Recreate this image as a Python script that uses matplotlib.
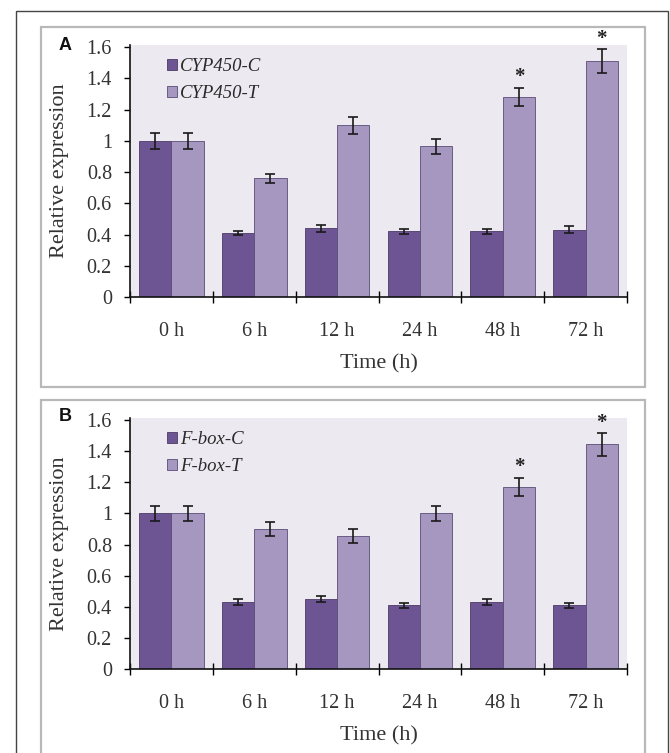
import matplotlib
matplotlib.use("Agg")
import matplotlib.pyplot as plt
from matplotlib.patches import Rectangle
import numpy as np

# data
times = ["0 h", "6 h", "12 h", "24 h", "48 h", "72 h"]

cyp_c = [1.00, 0.41, 0.44, 0.42, 0.42, 0.43]
cyp_c_err = [0.05, 0.015, 0.022, 0.016, 0.016, 0.022]
cyp_t = [1.00, 0.76, 1.10, 0.965, 1.28, 1.51]
cyp_t_err = [0.05, 0.03, 0.055, 0.047, 0.06, 0.078]
cyp_sig = [False, False, False, False, True, True]

fbox_c = [1.00, 0.43, 0.45, 0.41, 0.43, 0.41]
fbox_c_err = [0.05, 0.02, 0.02, 0.015, 0.02, 0.015]
fbox_t = [1.00, 0.90, 0.855, 1.00, 1.17, 1.445]
fbox_t_err = [0.05, 0.043, 0.045, 0.05, 0.06, 0.074]
fbox_sig = [False, False, False, False, True, True]

yticks = [0, 0.2, 0.4, 0.6, 0.8, 1.0, 1.2, 1.4, 1.6]
ytick_labels = ["0", "0.2", "0.4", "0.6", "0.8", "1", "1.2", "1.4", "1.6"]

dark = "#6d5492"
light = "#a597c0"
shade = "#ede9f1"
serif = "Liberation Serif"

W, H = 670, 753
fig = plt.figure(figsize=(W / 100, H / 100), dpi=100)
fig.patch.set_facecolor("white")

# frames around the figure and the two panels
fig.patches.append(Rectangle((16 / W, -0.01), 652 / W, 1.01 - 11 / H,
                             transform=fig.transFigure, fill=False,
                             edgecolor="#444444", linewidth=1.0))
fig.patches.append(Rectangle((41 / W, 1 - 387 / H), 604 / W, 360 / H,
                             transform=fig.transFigure, fill=False,
                             edgecolor="#b8b8b8", linewidth=1.6))
fig.patches.append(Rectangle((41 / W, -0.01), 604 / W, 0.01 + 1 - 400 / H,
                             transform=fig.transFigure, fill=False,
                             edgecolor="#b8b8b8", linewidth=1.6))


def panel(rect, c, c_err, t, t_err, sig, names, letter, letter_y):
    ax = fig.add_axes(rect)
    ax.set_facecolor(shade)
    x = np.arange(len(times))
    w = 0.39
    ax.bar(x - w / 2, c, w, color=dark, edgecolor="#4a3a66", linewidth=0.6,
           label=names[0], zorder=2)
    ax.bar(x + w / 2, t, w, color=light, edgecolor="#5a4c78", linewidth=0.6,
           label=names[1], zorder=2)
    ax.errorbar(x - w / 2, c, yerr=c_err, fmt="none", ecolor="#1a1a1a",
                elinewidth=1.2, capsize=3.5, capthick=1.2, zorder=3)
    ax.errorbar(x + w / 2, t, yerr=t_err, fmt="none", ecolor="#1a1a1a",
                elinewidth=1.2, capsize=3.5, capthick=1.2, zorder=3)
    for i in range(len(times)):
        if sig[i]:
            ax.text(x[i] + w / 2, t[i] + t_err[i] + 0.065, "*", ha="center",
                    va="center", fontsize=15, family=serif, color="#222222",
                    fontweight="bold")

    ax.set_xlim(-0.5, len(times) - 0.5)
    ax.set_ylim(0, 1.613)
    ax.set_yticks(yticks)
    ax.set_yticklabels(ytick_labels, family=serif, fontsize=14.5, color="#333333")
    ax.set_xticks(x)
    ax.set_xticklabels(times, family=serif, fontsize=14.5, color="#333333")
    ax.set_xticks(np.arange(len(times) + 1) - 0.5, minor=True)
    ax.tick_params(axis="x", which="major", length=0, pad=18)
    ax.tick_params(axis="x", which="minor", direction="inout", length=9,
                   width=1.0)
    ax.tick_params(axis="y", direction="out", length=4, width=1.0, pad=9)
    for s in ["top", "right"]:
        ax.spines[s].set_visible(False)
    for s in ["left", "bottom"]:
        ax.spines[s].set_color("#111111")
        ax.spines[s].set_linewidth(1.2)

    ax.set_ylabel("Relative expression", family=serif, fontsize=16,
                  color="#333333")
    ax.yaxis.set_label_coords(-0.122, 0.5)
    ax.set_xlabel("Time (h)", family=serif, fontsize=16, color="#333333")
    ax.xaxis.set_label_coords(0.5, -0.265)
    ax.xaxis.label.set_va("center")

    leg = ax.legend(loc="upper left", bbox_to_anchor=(0.055, 0.985),
                    frameon=False, handlelength=0.55, handleheight=0.55,
                    handletextpad=0.15, labelspacing=0.55, borderpad=0,
                    prop={"family": serif, "style": "italic", "size": 13.5})
    for txt in leg.get_texts():
        txt.set_color("#2a2a2a")

    fig.text(65 / W, 1 - letter_y / H, letter, ha="center", va="center",
             fontsize=13, fontweight="bold", family="Liberation Sans",
             color="#111111")
    return ax


panel([130 / W, 1 - 297 / H, 497 / W, 252 / H], cyp_c, cyp_c_err, cyp_t,
      cyp_t_err, cyp_sig, ["CYP450-C", "CYP450-T"], "A", 45)
panel([130 / W, 1 - 669 / H, 497 / W, 251 / H], fbox_c, fbox_c_err, fbox_t,
      fbox_t_err, fbox_sig, ["F-box-C", "F-box-T"], "B", 417)

fig.savefig("out.png", dpi=100, facecolor="white")
